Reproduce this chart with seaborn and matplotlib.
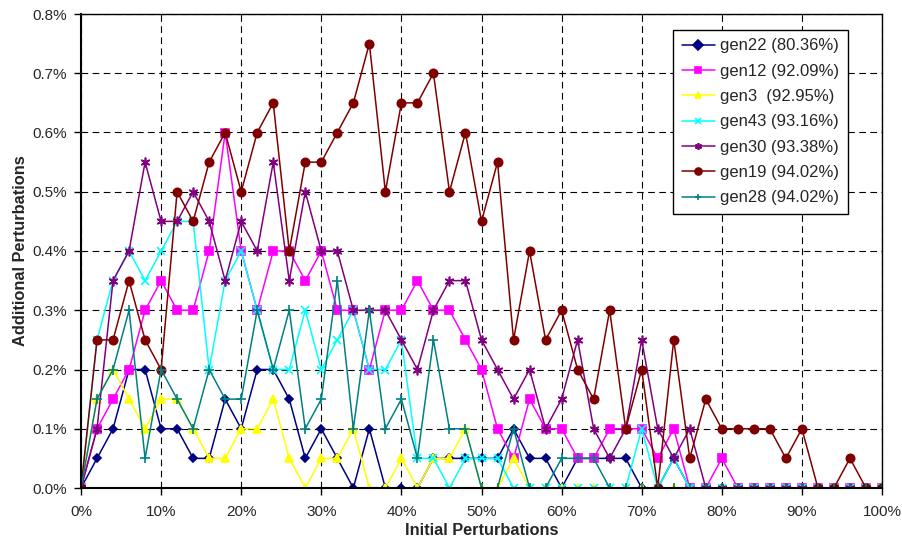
import matplotlib
matplotlib.use("Agg")
import matplotlib.pyplot as plt
import seaborn as sns
import pandas as pd
from matplotlib.ticker import FuncFormatter, MultipleLocator

# Initial perturbation levels (percent)
initial = list(range(0, 101, 2))

# Additional perturbations (percent) for each generation
gen22 = [0, 0.05, 0.10, 0.20, 0.20, 0.10, 0.10, 0.05, 0.05, 0.15, 0.10, 0.20, 0.20, 0.15,
         0.05, 0.10, 0.05, 0, 0.10, 0, 0, 0, 0.05, 0.05, 0.05, 0.05, 0.05, 0.10, 0.05, 0.05,
         0, 0.05, 0.05, 0.05, 0.05, 0, 0, 0.05, 0, 0, 0, 0, 0, 0, 0, 0, 0, 0, 0, 0, 0]
gen12 = [0, 0.10, 0.15, 0.20, 0.30, 0.35, 0.30, 0.30, 0.40, 0.60, 0.40, 0.30, 0.40, 0.40,
         0.35, 0.40, 0.30, 0.30, 0.20, 0.30, 0.30, 0.35, 0.30, 0.30, 0.25, 0.20, 0.10, 0.05,
         0.15, 0.10, 0.10, 0.05, 0.05, 0.10, 0.10, 0.10, 0.05, 0.10, 0, 0, 0.05, 0, 0, 0, 0,
         0, 0, 0, 0, 0, 0]
gen3 = [0, 0.15, 0.20, 0.15, 0.10, 0.15, 0.15, 0.10, 0.05, 0.05, 0.10, 0.10, 0.15, 0.05,
        0, 0.05, 0.05, 0.10, 0, 0, 0.05, 0, 0.05, 0.05, 0.10, 0, 0, 0.05, 0, 0, 0, 0, 0, 0,
        0, 0, 0, 0, 0, 0, 0, 0, 0, 0, 0, 0, 0, 0, 0, 0, 0]
gen43 = [0, 0.25, 0.35, 0.40, 0.35, 0.40, 0.45, 0.45, 0.20, 0.35, 0.40, 0.30, 0.20, 0.20,
         0.30, 0.20, 0.25, 0.30, 0.20, 0.20, 0.25, 0.05, 0.05, 0, 0.05, 0.05, 0.05, 0, 0, 0,
         0, 0, 0, 0, 0, 0.10, 0, 0.05, 0, 0, 0, 0, 0, 0, 0, 0, 0, 0, 0, 0, 0]
gen30 = [0, 0.10, 0.35, 0.40, 0.55, 0.45, 0.45, 0.50, 0.45, 0.35, 0.45, 0.40, 0.55, 0.35,
         0.50, 0.40, 0.40, 0.30, 0.30, 0.30, 0.25, 0.20, 0.30, 0.35, 0.35, 0.25, 0.20, 0.15,
         0.20, 0.10, 0.15, 0.25, 0.10, 0.05, 0.10, 0.25, 0.10, 0.05, 0.10, 0, 0, 0, 0, 0, 0,
         0, 0, 0, 0, 0, 0]
gen19 = [0, 0.25, 0.25, 0.35, 0.25, 0.20, 0.50, 0.45, 0.55, 0.60, 0.50, 0.60, 0.65, 0.40,
         0.55, 0.55, 0.60, 0.65, 0.75, 0.50, 0.65, 0.65, 0.70, 0.50, 0.60, 0.45, 0.55, 0.25,
         0.40, 0.25, 0.30, 0.20, 0.15, 0.30, 0.10, 0.20, 0, 0.25, 0.05, 0.15, 0.10, 0.10,
         0.10, 0.10, 0.05, 0.10, 0, 0, 0.05, 0, 0]
gen28 = [0, 0.15, 0.20, 0.30, 0.05, 0.20, 0.15, 0.10, 0.20, 0.15, 0.15, 0.30, 0.20, 0.30,
         0.10, 0.15, 0.35, 0.10, 0.30, 0.10, 0.15, 0.05, 0.25, 0.10, 0.10, 0, 0, 0.10, 0, 0,
         0.05, 0.05, 0.05, 0, 0, 0, 0, 0, 0, 0, 0, 0, 0, 0, 0, 0, 0, 0, 0, 0, 0]

labels = ["gen22 (80.36%)", "gen12 (92.09%)", "gen3  (92.95%)", "gen43 (93.16%)",
          "gen30 (93.38%)", "gen19 (94.02%)", "gen28 (94.02%)"]
series = [gen22, gen12, gen3, gen43, gen30, gen19, gen28]

colors = ["#000080", "#FF00FF", "#FFFF00", "#00FFFF", "#800080", "#800000", "#008080"]
markers = ["D", "s", "^", "x", (6, 2, 0), "o", "+"]
msizes = [4, 6, 6, 6, 7, 6, 7]

sns.set_style("white")
plt.rcParams["font.family"] = ["Liberation Sans", "DejaVu Sans"]

fig = plt.figure(figsize=(9.03, 5.41), dpi=100)
ax = fig.add_axes([81 / 903, 1 - 488 / 541, 801 / 903, 474 / 541])

for vals, lab, col, mk, ms in zip(series, labels, colors, markers, msizes):
    df = pd.DataFrame({"x": initial, "y": vals})
    sns.lineplot(data=df, x="x", y="y", ax=ax, color=col, marker=mk, markersize=ms,
                 markeredgecolor=col, markerfacecolor=col, markeredgewidth=1.2,
                 linewidth=1.1, label=lab)

ax.set_xlim(0, 100)
ax.set_ylim(0, 0.8)
ax.xaxis.set_major_locator(MultipleLocator(10))
ax.yaxis.set_major_locator(MultipleLocator(0.1))
ax.xaxis.set_major_formatter(FuncFormatter(lambda v, p: f"{v:.0f}%"))
ax.yaxis.set_major_formatter(FuncFormatter(lambda v, p: f"{v:.1f}%"))

ax.grid(True, color="black", linestyle=(0, (6, 4)), linewidth=0.8)
ax.set_axisbelow(True)
for s in ax.spines.values():
    s.set_visible(True)
    s.set_color("black")
    s.set_linewidth(1.0)
ax.spines["left"].set_linewidth(1.5)
ax.spines["bottom"].set_linewidth(1.5)

ax.tick_params(axis="both", which="major", direction="out", length=5, width=1,
               color="black", labelsize=11, bottom=True, left=True, pad=5)
ax.tick_params(axis="x", pad=7)
ax.set_xlabel("Initial Perturbations", fontsize=11.8, fontweight="bold", labelpad=3)
ax.set_ylabel("Additional Perturbations", fontsize=11.8, fontweight="bold", labelpad=3)

leg = ax.legend(loc="upper right", bbox_to_anchor=(0.957, 0.966), fontsize=12,
                frameon=True, fancybox=False, edgecolor="black", framealpha=1,
                handlelength=2.0, handletextpad=0.3, labelspacing=0.62,
                borderpad=0.5, borderaxespad=0)
leg.get_frame().set_linewidth(1.0)
for h in leg.legend_handles:
    h.set_markersize(5)

fig.savefig("out.png", dpi=100, facecolor="white")
